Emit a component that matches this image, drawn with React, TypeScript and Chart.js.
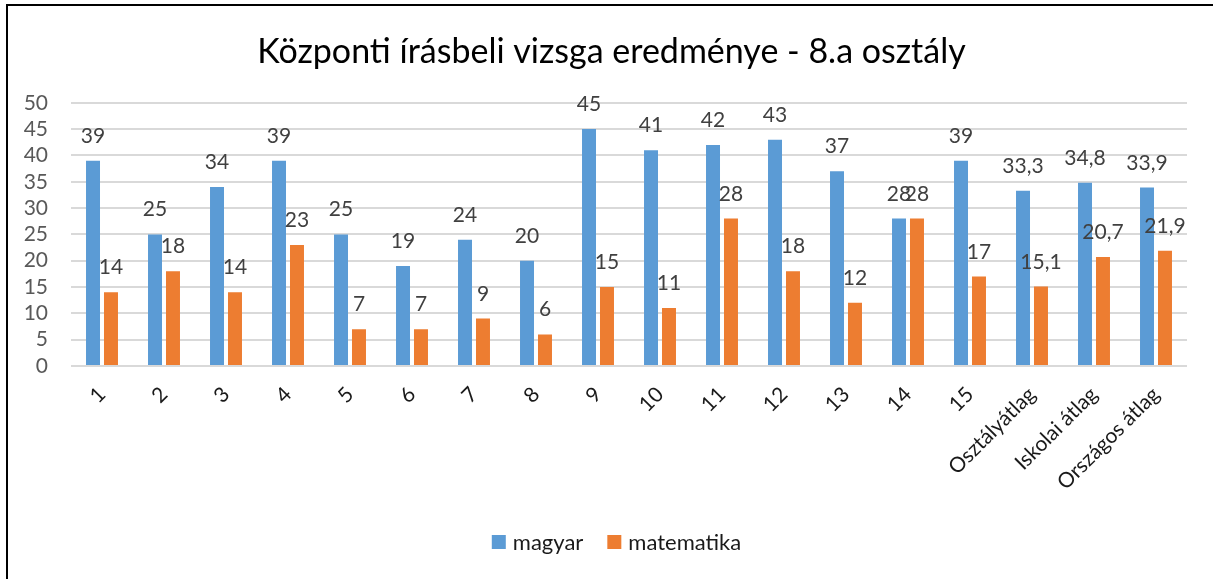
import React, { useEffect, useRef } from "react";
import { Chart, registerables } from "chart.js";

Chart.register(...registerables);

const categories = [
  "1", "2", "3", "4", "5", "6", "7", "8", "9", "10", "11", "12", "13", "14", "15",
  "Osztályátlag", "Iskolai átlag", "Országos átlag",
];
const magyar = [39, 25, 34, 39, 25, 19, 24, 20, 45, 41, 42, 43, 37, 28, 39, 33.3, 34.8, 33.9];
const matematika = [14, 18, 14, 23, 7, 7, 9, 6, 15, 11, 28, 18, 12, 28, 17, 15.1, 20.7, 21.9];
const seriesNames = ["magyar", "matematika"];
const seriesColors = ["#5B9BD5", "#ED7D31"];
const yMin = 0;
const yMax = 50;
const yStep = 5;
const titleText = "Központi írásbeli vizsga eredménye - 8.a osztály";

const FONT = "Lato, 'Open Sans', 'Noto Sans', sans-serif";

const fmt = (v: number) => String(v).replace(".", ",");

const valueLabels = {
  id: "valueLabels",
  afterDatasetsDraw(chart: any) {
    const ctx = chart.ctx;
    ctx.save();
    ctx.font = `21px ${FONT}`;
    ctx.fillStyle = "#404040";
    ctx.textAlign = "center";
    ctx.textBaseline = "alphabetic";
    chart.data.datasets.forEach((ds: any, i: number) => {
      const meta = chart.getDatasetMeta(i);
      meta.data.forEach((el: any, j: number) => {
        ctx.fillText(fmt(ds.data[j]), el.x, el.y - 18);
      });
    });
    ctx.restore();
  },
};

const bottomLegend = {
  id: "bottomLegend",
  afterDraw(chart: any) {
    const ctx = chart.ctx;
    ctx.save();
    ctx.font = `22px ${FONT}`;
    ctx.textBaseline = "middle";
    ctx.textAlign = "left";
    const yc = chart.height - 37;
    const box = 14;
    const gap = 7;
    const itemGap = 24;
    const items = chart.data.datasets.map((ds: any) => ({
      text: ds.label,
      color: ds.backgroundColor,
      w: ctx.measureText(ds.label).width,
    }));
    const total =
      items.reduce((s: number, it: any) => s + box + gap + it.w, 0) + itemGap * (items.length - 1);
    let x = chart.width / 2 + 10 - total / 2;
    items.forEach((it: any) => {
      ctx.fillStyle = it.color;
      ctx.fillRect(x, yc - box / 2, box, box);
      x += box + gap;
      ctx.fillStyle = "#1a1a1a";
      ctx.fillText(it.text, x, yc + 1);
      x += it.w + itemGap;
    });
    ctx.restore();
  },
};

export default function App() {
  const ref = useRef<HTMLCanvasElement | null>(null);

  useEffect(() => {
    if (!ref.current) return;
    const chart = new Chart(ref.current, {
      type: "bar",
      data: {
        labels: categories,
        datasets: [
          {
            label: seriesNames[0],
            data: magyar,
            backgroundColor: seriesColors[0],
            categoryPercentage: 0.58,
            barPercentage: 0.778,
          },
          {
            label: seriesNames[1],
            data: matematika,
            backgroundColor: seriesColors[1],
            categoryPercentage: 0.58,
            barPercentage: 0.778,
          },
        ],
      },
      options: {
        responsive: false,
        animation: false,
        layout: { padding: { top: 0, left: 10, right: 0, bottom: 0 } },
        plugins: {
          legend: { display: false },
          tooltip: { enabled: false },
          title: {
            display: true,
            text: titleText,
            color: "#000",
            font: { family: FONT, size: 34, weight: "normal" },
            padding: { top: 32, bottom: 30 },
          },
        },
        scales: {
          x: {
            grid: { display: false, drawTicks: false },
            border: { display: false },
            ticks: {
              autoSkip: false,
              minRotation: 45,
              maxRotation: 45,
              color: "#1a1a1a",
              font: { family: FONT, size: 21 },
              padding: 16,
            },
            afterFit(scale: any) {
              scale.height = 213;
            },
          },
          y: {
            min: yMin,
            max: yMax,
            ticks: {
              stepSize: yStep,
              autoSkip: false,
              color: "#595959",
              font: { family: FONT, size: 21 },
              padding: 23,
            },
            grid: { color: "#d9d9d9", lineWidth: 2, drawTicks: false },
            border: { display: false },
            afterFit(scale: any) {
              scale.width = 61;
            },
          },
          yRight: {
            position: "right",
            min: yMin,
            max: yMax,
            grid: { display: false, drawTicks: false },
            border: { display: false },
            ticks: { display: false },
            afterFit(scale: any) {
              scale.width = 26;
            },
          },
        },
      } as any,
      plugins: [valueLabels, bottomLegend],
    });
    return () => chart.destroy();
  }, []);

  return (
    <div
      style={{
        position: "fixed",
        left: 0,
        top: 0,
        width: 1213,
        height: 579,
        background: "#fff",
        overflow: "hidden",
      }}
    >
      <canvas ref={ref} width={1213} height={579} style={{ display: "block" }} />
      <div
        style={{
          position: "absolute",
          left: 6,
          top: 4,
          width: 1220,
          height: 600,
          borderLeft: "2px solid #000",
          borderTop: "2px solid #000",
          pointerEvents: "none",
        }}
      />
    </div>
  );
}
